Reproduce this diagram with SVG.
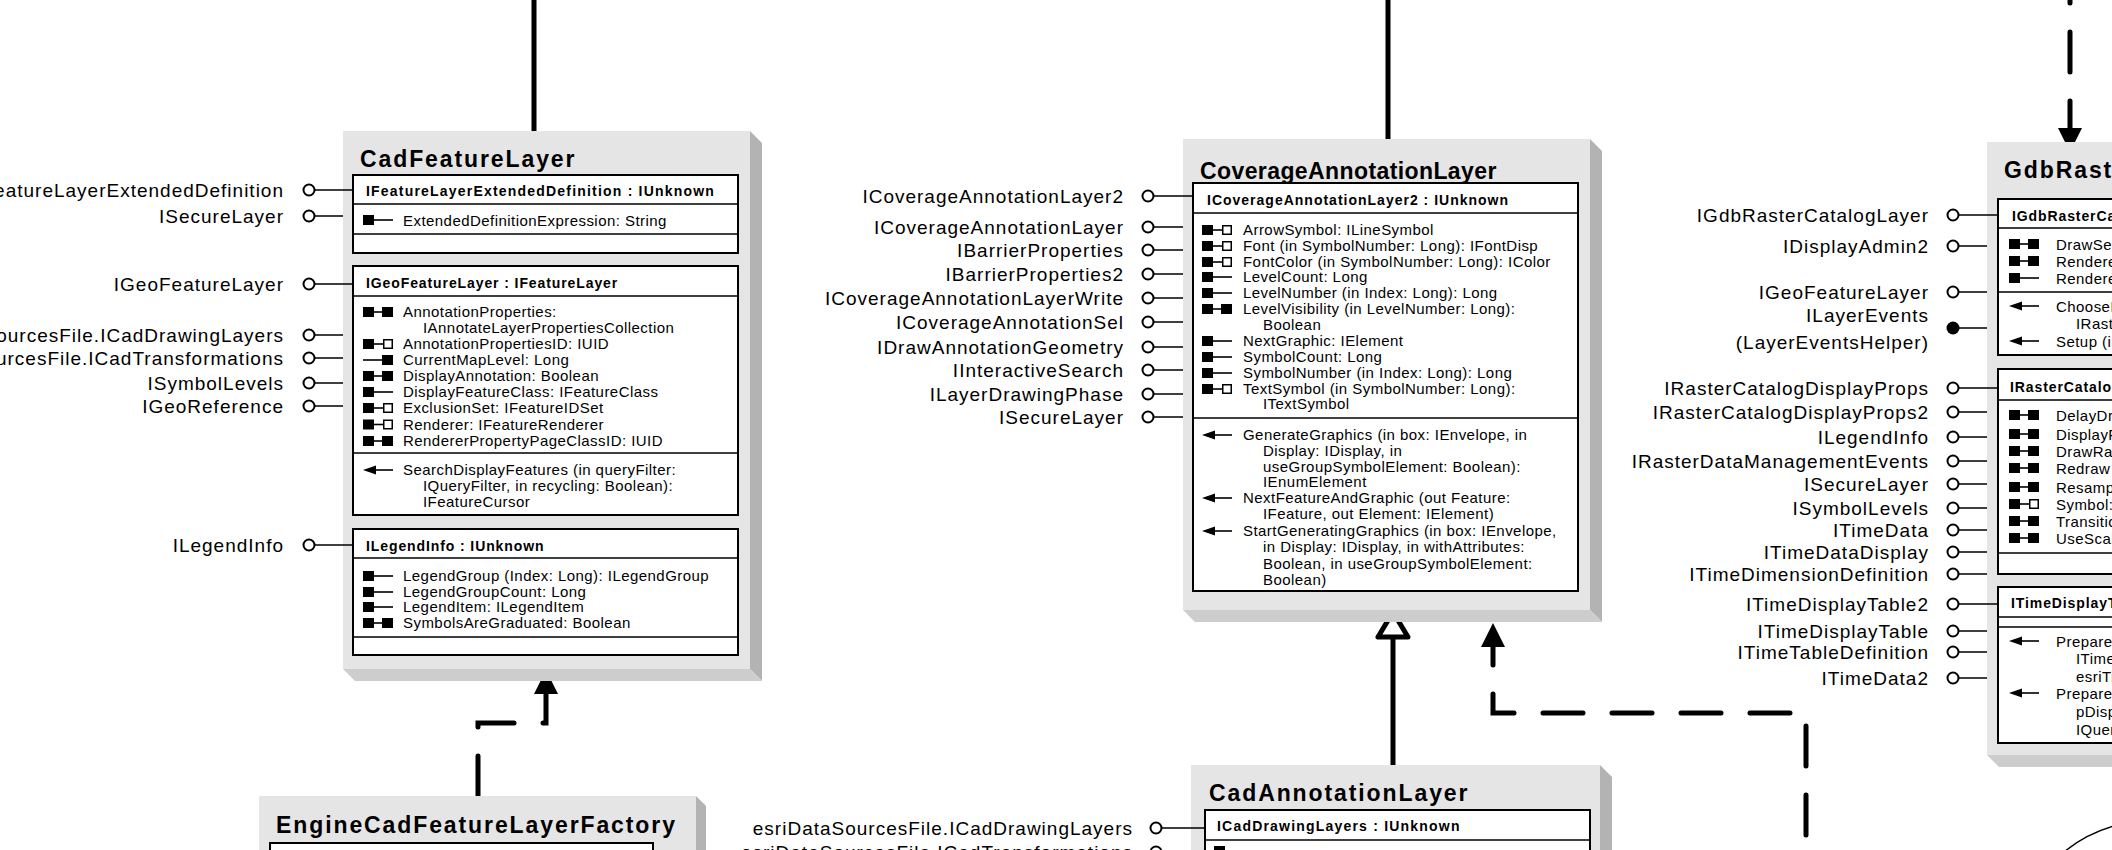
<svg xmlns="http://www.w3.org/2000/svg" width="2112" height="850" viewBox="0 0 2112 850">
<style>
text{font-family:"Liberation Sans",Arial,Helvetica,sans-serif;fill:#000}
.main{fill:#e5e5e5}
.shr{fill:#b3b3b3}
.shb{fill:#cdcdcd}
.ibox{fill:#fff;stroke:#000;stroke-width:2}
.sep{stroke:#000;stroke-width:1.5;fill:none}
.title{font-size:23px;font-weight:bold;letter-spacing:1.9px}
.hdr{font-size:14px;font-weight:bold;letter-spacing:0.9px}
.mem{font-size:15px;letter-spacing:0.45px}
.lbl{font-size:19px;letter-spacing:1px;text-anchor:end}
.lol{stroke:#000;stroke-width:1.5;fill:none}
.cir{fill:#fff;stroke:#000;stroke-width:2}
.conn{stroke:#000;stroke-width:5;fill:none}
.dash{stroke-dasharray:40 29;stroke-linecap:round}
.ah{fill:#000;stroke:none}
.il{stroke:#000;stroke-width:1.6;fill:none}
</style>
<defs>
<g id="ic-rw"><rect x="0" y="-5" width="11" height="10"/><rect x="19" y="-5" width="11" height="10"/><path class="il" d="M11,0H19"/></g>
<g id="ic-ro"><rect x="0" y="-5" width="11" height="10"/><path class="il" d="M11,0H30"/></g>
<g id="ic-rr"><rect x="0" y="-5" width="11" height="10"/><path class="il" d="M11,0H20"/><rect x="20.75" y="-4.25" width="8.5" height="8.5" fill="#fff" stroke="#000" stroke-width="1.5"/></g>
<g id="ic-wo"><path class="il" d="M0,0H19"/><rect x="19" y="-5" width="11" height="10"/></g>
<g id="ic-m"><path d="M0,0L13,-4.5V4.5Z"/><path class="il" d="M12,0H30"/></g>
</defs>
<rect width="2112" height="850" fill="#fff"/>

<g id="connectors">
<path class="conn" d="M534,0V131"/>
<path class="conn" d="M1388,0V139"/>
<path class="conn dash" d="M478,796V723H546V690"/>
<polygon class="ah" points="546,670 534,694 558,694"/>
<path class="conn" d="M1393,767V634"/>
<polygon points="1393,612 1378,637 1408,637" fill="#fff" stroke="#000" stroke-width="5" stroke-linejoin="round"/>
<path class="conn dash" style="stroke-dashoffset:54" d="M1806,850V713H1493V643"/>
<polygon class="ah" points="1493,623 1481,647 1505,647"/>
<path class="conn dash" style="stroke-dashoffset:6" d="M2070,-100V132"/>
<polygon class="ah" points="2070,152 2058,128 2082,128"/>
<path d="M2064,852Q2086,834 2114,826" fill="none" stroke="#000" stroke-width="1.5"/>
</g>

<g id="cadFeatureLayer">
<polygon class="shr" points="750,131 762,143 762,681 750,669"/>
<polygon class="shb" points="343,669 750,669 762,681 355,681"/>
<rect class="main" x="343" y="131" width="407" height="538"/>
<text class="title" x="360" y="167">CadFeatureLayer</text>
<rect class="ibox" x="353" y="175" width="385" height="78"/>
<path class="sep" d="M353,204H738M353,234H738"/>
<text class="hdr" x="366" y="196" style="letter-spacing:1.2px">IFeatureLayerExtendedDefinition : IUnknown</text>
<use href="#ic-ro" x="363" y="220"/>
<text class="mem" x="403" y="226">ExtendedDefinitionExpression: String</text>
<rect class="ibox" x="353" y="266" width="385" height="249"/>
<path class="sep" d="M353,296H738M353,453H738"/>
<text class="hdr" x="366" y="288">IGeoFeatureLayer : IFeatureLayer</text>
<use href="#ic-rw" x="363" y="312"/>
<text class="mem" x="403" y="317">AnnotationProperties:</text>
<text class="mem" x="423" y="333">IAnnotateLayerPropertiesCollection</text>
<use href="#ic-rr" x="363" y="344"/>
<text class="mem" x="403" y="349">AnnotationPropertiesID: IUID</text>
<use href="#ic-wo" x="363" y="360"/>
<text class="mem" x="403" y="365">CurrentMapLevel: Long</text>
<use href="#ic-rw" x="363" y="376"/>
<text class="mem" x="403" y="381">DisplayAnnotation: Boolean</text>
<use href="#ic-ro" x="363" y="392"/>
<text class="mem" x="403" y="397">DisplayFeatureClass: IFeatureClass</text>
<use href="#ic-rr" x="363" y="408"/>
<text class="mem" x="403" y="413">ExclusionSet: IFeatureIDSet</text>
<use href="#ic-rr" x="363" y="424.5"/>
<text class="mem" x="403" y="429.5">Renderer: IFeatureRenderer</text>
<use href="#ic-rw" x="363" y="441"/>
<text class="mem" x="403" y="446">RendererPropertyPageClassID: IUID</text>
<use href="#ic-m" x="363" y="470"/>
<text class="mem" x="403" y="475">SearchDisplayFeatures (in queryFilter:</text>
<text class="mem" x="423" y="491">IQueryFilter, in recycling: Boolean):</text>
<text class="mem" x="423" y="507">IFeatureCursor</text>
<rect class="ibox" x="353" y="529" width="385" height="126"/>
<path class="sep" d="M353,558H738M353,637H738"/>
<text class="hdr" x="366" y="551">ILegendInfo : IUnknown</text>
<use href="#ic-ro" x="363" y="576"/>
<text class="mem" x="403" y="581">LegendGroup (Index: Long): ILegendGroup</text>
<use href="#ic-ro" x="363" y="592"/>
<text class="mem" x="403" y="597">LegendGroupCount: Long</text>
<use href="#ic-ro" x="363" y="607"/>
<text class="mem" x="403" y="612">LegendItem: ILegendItem</text>
<use href="#ic-rw" x="363" y="623"/>
<text class="mem" x="403" y="628">SymbolsAreGraduated: Boolean</text>
<path class="lol" d="M315,190H353M315,216H343M315,284H353M315,335H343M315,358H343M315,383H343M315,406H343M315,545H353"/>
<circle class="cir" cx="309" cy="190" r="5.5"/>
<circle class="cir" cx="309" cy="216" r="5.5"/>
<circle class="cir" cx="309" cy="284" r="5.5"/>
<circle class="cir" cx="309" cy="335" r="5.5"/>
<circle class="cir" cx="309" cy="358" r="5.5"/>
<circle class="cir" cx="309" cy="383" r="5.5"/>
<circle class="cir" cx="309" cy="406" r="5.5"/>
<circle class="cir" cx="309" cy="545" r="5.5"/>
<text class="lbl" x="284" y="197">IFeatureLayerExtendedDefinition</text>
<text class="lbl" x="284" y="223">ISecureLayer</text>
<text class="lbl" x="284" y="291">IGeoFeatureLayer</text>
<text class="lbl" x="284" y="342">esriDataSourcesFile.ICadDrawingLayers</text>
<text class="lbl" x="284" y="365">esriDataSourcesFile.ICadTransformations</text>
<text class="lbl" x="284" y="390">ISymbolLevels</text>
<text class="lbl" x="284" y="413">IGeoReference</text>
<text class="lbl" x="284" y="552">ILegendInfo</text>
</g>

<g id="engineCadFeatureLayerFactory">
<polygon class="shr" points="696,796 706,806 706,860 696,860"/>
<rect class="main" x="259" y="796" width="437" height="70"/>
<text class="title" x="276" y="833">EngineCadFeatureLayerFactory</text>
<rect class="ibox" x="270" y="843" width="383" height="30"/>
</g>

<g id="coverageAnnotationLayer">
<polygon class="shr" points="1590,139 1602,151 1602,622 1590,610"/>
<polygon class="shb" points="1183,610 1590,610 1602,622 1195,622"/>
<rect class="main" x="1183" y="139" width="407" height="471"/>
<text class="title" x="1200" y="179" style="letter-spacing:0.4px">CoverageAnnotationLayer</text>
<rect class="ibox" x="1193" y="183" width="385" height="408"/>
<path class="sep" d="M1193,213H1578M1193,418H1578"/>
<text class="hdr" x="1207" y="205" style="letter-spacing:1px">ICoverageAnnotationLayer2 : IUnknown</text>
<use href="#ic-rr" x="1202" y="230"/>
<text class="mem" x="1243" y="235">ArrowSymbol: ILineSymbol</text>
<use href="#ic-rr" x="1202" y="246"/>
<text class="mem" x="1243" y="251">Font (in SymbolNumber: Long): IFontDisp</text>
<use href="#ic-rr" x="1202" y="262"/>
<text class="mem" x="1243" y="267">FontColor (in SymbolNumber: Long): IColor</text>
<use href="#ic-ro" x="1202" y="277"/>
<text class="mem" x="1243" y="282">LevelCount: Long</text>
<use href="#ic-ro" x="1202" y="293"/>
<text class="mem" x="1243" y="298">LevelNumber (in Index: Long): Long</text>
<use href="#ic-rw" x="1202" y="309"/>
<text class="mem" x="1243" y="314">LevelVisibility (in LevelNumber: Long):</text>
<text class="mem" x="1263" y="330">Boolean</text>
<use href="#ic-ro" x="1202" y="341"/>
<text class="mem" x="1243" y="346">NextGraphic: IElement</text>
<use href="#ic-ro" x="1202" y="357"/>
<text class="mem" x="1243" y="362">SymbolCount: Long</text>
<use href="#ic-ro" x="1202" y="373"/>
<text class="mem" x="1243" y="378">SymbolNumber (in Index: Long): Long</text>
<use href="#ic-rr" x="1202" y="389"/>
<text class="mem" x="1243" y="394">TextSymbol (in SymbolNumber: Long):</text>
<text class="mem" x="1263" y="409">ITextSymbol</text>
<use href="#ic-m" x="1202" y="435"/>
<text class="mem" x="1243" y="440">GenerateGraphics (in box: IEnvelope, in</text>
<text class="mem" x="1263" y="456">Display: IDisplay, in</text>
<text class="mem" x="1263" y="472">useGroupSymbolElement: Boolean):</text>
<text class="mem" x="1263" y="487">IEnumElement</text>
<use href="#ic-m" x="1202" y="498"/>
<text class="mem" x="1243" y="503">NextFeatureAndGraphic (out Feature:</text>
<text class="mem" x="1263" y="519">IFeature, out Element: IElement)</text>
<use href="#ic-m" x="1202" y="531"/>
<text class="mem" x="1243" y="536">StartGeneratingGraphics (in box: IEnvelope,</text>
<text class="mem" x="1263" y="552">in Display: IDisplay, in withAttributes:</text>
<text class="mem" x="1263" y="569">Boolean, in useGroupSymbolElement:</text>
<text class="mem" x="1263" y="585">Boolean)</text>
<path class="lol" d="M1154,196H1193M1154,227H1183M1154,250H1183M1154,274H1183M1154,298H1183M1154,322H1183M1154,347H1183M1154,370H1183M1154,394H1183M1154,417H1183"/>
<circle class="cir" cx="1148" cy="196" r="5.5"/>
<circle class="cir" cx="1148" cy="227" r="5.5"/>
<circle class="cir" cx="1148" cy="250" r="5.5"/>
<circle class="cir" cx="1148" cy="274" r="5.5"/>
<circle class="cir" cx="1148" cy="298" r="5.5"/>
<circle class="cir" cx="1148" cy="322" r="5.5"/>
<circle class="cir" cx="1148" cy="347" r="5.5"/>
<circle class="cir" cx="1148" cy="370" r="5.5"/>
<circle class="cir" cx="1148" cy="394" r="5.5"/>
<circle class="cir" cx="1148" cy="417" r="5.5"/>
<text class="lbl" x="1124" y="203">ICoverageAnnotationLayer2</text>
<text class="lbl" x="1124" y="234">ICoverageAnnotationLayer</text>
<text class="lbl" x="1124" y="257">IBarrierProperties</text>
<text class="lbl" x="1124" y="281">IBarrierProperties2</text>
<text class="lbl" x="1124" y="305">ICoverageAnnotationLayerWrite</text>
<text class="lbl" x="1124" y="329">ICoverageAnnotationSel</text>
<text class="lbl" x="1124" y="354">IDrawAnnotationGeometry</text>
<text class="lbl" x="1124" y="377">IInteractiveSearch</text>
<text class="lbl" x="1124" y="401">ILayerDrawingPhase</text>
<text class="lbl" x="1124" y="424">ISecureLayer</text>
</g>

<g id="cadAnnotationLayer">
<polygon class="shr" points="1600,765 1612,777 1612,860 1600,860"/>
<rect class="main" x="1191" y="765" width="409" height="95"/>
<text class="title" x="1209" y="801">CadAnnotationLayer</text>
<rect class="ibox" x="1205" y="810" width="385" height="60"/>
<path class="sep" d="M1205,840H1590"/>
<text class="hdr" x="1217" y="831" style="letter-spacing:1.2px">ICadDrawingLayers : IUnknown</text>
<use href="#ic-ro" x="1214" y="851"/>
<path class="lol" d="M1162,828H1205M1162,852H1191"/>
<circle class="cir" cx="1156" cy="828" r="5.5"/>
<circle class="cir" cx="1156" cy="852" r="5.5"/>
<text class="lbl" x="1133" y="835">esriDataSourcesFile.ICadDrawingLayers</text>
<text class="lbl" x="1133" y="859">esriDataSourcesFile.ICadTransformations</text>
</g>

<g id="gdbRasterCatalogLayer">
<polygon class="shb" points="1987,755 2120,755 2120,767 1999,767"/>
<rect class="main" x="1987" y="142" width="140" height="613"/>
<text class="title" x="2004" y="178">GdbRasterCatalogLayer</text>
<rect class="ibox" x="1998" y="199" width="130" height="156"/>
<path class="sep" d="M1998,228H2128M1998,292H2128"/>
<text class="hdr" x="2012" y="221">IGdbRasterCatalogLayer : IUnknown</text>
<use href="#ic-rw" x="2009" y="244"/>
<text class="mem" x="2056" y="250">DrawSelection</text>
<use href="#ic-rw" x="2009" y="261"/>
<text class="mem" x="2056" y="267">Renderer</text>
<use href="#ic-ro" x="2009" y="278"/>
<text class="mem" x="2056" y="284">Renderers</text>
<use href="#ic-m" x="2009" y="306"/>
<text class="mem" x="2056" y="312">ChooseRenderer</text>
<text class="mem" x="2076" y="329">IRaster</text>
<use href="#ic-m" x="2009" y="341"/>
<text class="mem" x="2056" y="347">Setup (in</text>
<rect class="ibox" x="1998" y="369" width="130" height="205"/>
<path class="sep" d="M1998,400H2128M1998,553H2128"/>
<text class="hdr" x="2010" y="392">IRasterCatalogDisplayProps : IUnknown</text>
<use href="#ic-rw" x="2009" y="415"/>
<text class="mem" x="2056" y="421">DelayDrawing</text>
<use href="#ic-rw" x="2009" y="434"/>
<text class="mem" x="2056" y="440">DisplayFootprint</text>
<use href="#ic-rw" x="2009" y="451"/>
<text class="mem" x="2056" y="457">DrawRaster</text>
<use href="#ic-rw" x="2009" y="468"/>
<text class="mem" x="2056" y="474">Redraw</text>
<use href="#ic-rw" x="2009" y="487"/>
<text class="mem" x="2056" y="493">Resampling</text>
<use href="#ic-rr" x="2009" y="504"/>
<text class="mem" x="2056" y="510">Symbol: ISymbol</text>
<use href="#ic-rw" x="2009" y="521"/>
<text class="mem" x="2056" y="527">TransitionScale</text>
<use href="#ic-rw" x="2009" y="538"/>
<text class="mem" x="2056" y="544">UseScale</text>
<rect class="ibox" x="1998" y="587" width="130" height="156"/>
<path class="sep" d="M1998,617H2128M1998,627H2128"/>
<text class="hdr" x="2011" y="608">ITimeDisplayTable2 : IUnknown</text>
<use href="#ic-m" x="2009" y="641"/>
<text class="mem" x="2056" y="647">PrepareForQuery</text>
<text class="mem" x="2076" y="664">ITimeDisplay</text>
<text class="mem" x="2076" y="682">esriTime</text>
<use href="#ic-m" x="2009" y="693"/>
<text class="mem" x="2056" y="699">PrepareForQuery</text>
<text class="mem" x="2076" y="717">pDisplay</text>
<text class="mem" x="2076" y="735">IQueryFilter</text>
<path class="lol" d="M1959,215H1998M1959,246H1987M1959,292H1987M1953,328H1987M1959,388H1998M1959,412H1987M1959,437H1987M1959,461H1987M1959,484H1987M1959,508H1987M1959,530H1987M1959,552H1987M1959,574H1987M1959,604H1998M1959,631H1987M1959,652H1987M1959,678H1987"/>
<circle class="cir" cx="1953" cy="215" r="5.5"/>
<circle class="cir" cx="1953" cy="246" r="5.5"/>
<circle class="cir" cx="1953" cy="292" r="5.5"/>
<circle cx="1953" cy="328" r="6.5" fill="#000"/>
<circle class="cir" cx="1953" cy="388" r="5.5"/>
<circle class="cir" cx="1953" cy="412" r="5.5"/>
<circle class="cir" cx="1953" cy="437" r="5.5"/>
<circle class="cir" cx="1953" cy="461" r="5.5"/>
<circle class="cir" cx="1953" cy="484" r="5.5"/>
<circle class="cir" cx="1953" cy="508" r="5.5"/>
<circle class="cir" cx="1953" cy="530" r="5.5"/>
<circle class="cir" cx="1953" cy="552" r="5.5"/>
<circle class="cir" cx="1953" cy="574" r="5.5"/>
<circle class="cir" cx="1953" cy="604" r="5.5"/>
<circle class="cir" cx="1953" cy="631" r="5.5"/>
<circle class="cir" cx="1953" cy="652" r="5.5"/>
<circle class="cir" cx="1953" cy="678" r="5.5"/>
<text class="lbl" x="1929" y="222">IGdbRasterCatalogLayer</text>
<text class="lbl" x="1929" y="253">IDisplayAdmin2</text>
<text class="lbl" x="1929" y="299">IGeoFeatureLayer</text>
<text class="lbl" x="1929" y="322">ILayerEvents</text>
<text class="lbl" x="1929" y="349">(LayerEventsHelper)</text>
<text class="lbl" x="1929" y="395">IRasterCatalogDisplayProps</text>
<text class="lbl" x="1929" y="419">IRasterCatalogDisplayProps2</text>
<text class="lbl" x="1929" y="444">ILegendInfo</text>
<text class="lbl" x="1929" y="468">IRasterDataManagementEvents</text>
<text class="lbl" x="1929" y="491">ISecureLayer</text>
<text class="lbl" x="1929" y="515">ISymbolLevels</text>
<text class="lbl" x="1929" y="537">ITimeData</text>
<text class="lbl" x="1929" y="559">ITimeDataDisplay</text>
<text class="lbl" x="1929" y="581">ITimeDimensionDefinition</text>
<text class="lbl" x="1929" y="611">ITimeDisplayTable2</text>
<text class="lbl" x="1929" y="638">ITimeDisplayTable</text>
<text class="lbl" x="1929" y="659">ITimeTableDefinition</text>
<text class="lbl" x="1929" y="685">ITimeData2</text>
</g>
</svg>
